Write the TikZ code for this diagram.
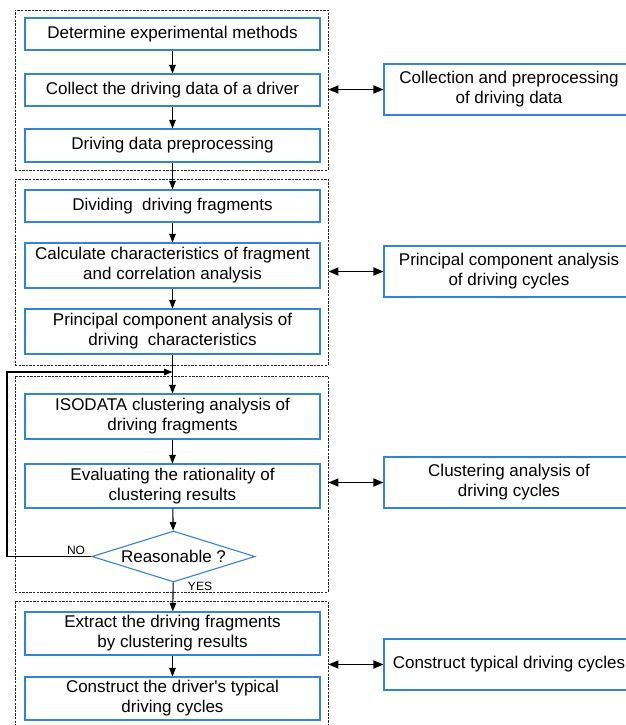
\documentclass[tikz,border=0pt]{standalone}
\usepackage{fontspec}
\setmainfont{Liberation Sans}
\usetikzlibrary{arrows.meta,shapes.geometric,shadows}
\definecolor{boxblue}{RGB}{52,132,214}
\definecolor{dashgray}{RGB}{40,40,40}
\begin{document}
\begin{tikzpicture}[x=1pt,y=-1pt,
  stepbox/.style={draw=boxblue,line width=1.1pt,fill=white,minimum width=295pt,align=center,inner sep=0pt,
    font=\fontsize{17}{20}\selectfont,
    drop shadow={shadow xshift=1pt,shadow yshift=-1.2pt,fill=black,opacity=0.12}},
  sidebox/.style={stepbox,minimum width=250pt,minimum height=51pt},
  decide/.style={diamond,draw=boxblue,line width=1.1pt,fill=white,aspect=3.2,inner sep=0pt,
    minimum width=163pt,minimum height=51pt,font=\fontsize{17}{20}\selectfont},
  group/.style={draw=dashgray,line width=0.9pt,dash pattern=on 2.4pt off 1.2pt},
  flow/.style={draw=black,line width=1.1pt,-{Triangle[length=8.5pt,width=6.5pt]}},
  both/.style={draw=black,line width=1.4pt,{Triangle[length=10pt,width=8pt]}-{Triangle[length=10pt,width=8pt]}},
  small/.style={font=\fontsize{12}{14}\selectfont,inner sep=0pt}
]
\useasboundingbox (0,0) rectangle (626,725);
\clip (0,0) rectangle (626,725);

% dashed groups
\node[group,minimum width=313pt,minimum height=160pt,inner sep=0pt] (g1) at (171.5,90) {};
\node[group,minimum width=313pt,minimum height=186pt,inner sep=0pt] (g2) at (171.5,272) {};
\node[group,minimum width=313pt,minimum height=216pt,inner sep=0pt] (g3) at (171.5,484) {};
\node[group,minimum width=313pt,minimum height=140pt,inner sep=0pt] (g4) at (171.5,671) {};

% steps
\node[stepbox,minimum height=32pt] (b1) at (172.5,34) {Determine experimental methods};
\node[stepbox,minimum height=32pt] (b2) at (172.5,90) {Collect the driving data of a driver};
\node[stepbox,minimum height=33pt] (b3) at (172.5,145.5) {Driving data preprocessing};
\node[stepbox,minimum height=32pt] (b4) at (172.5,206) {Dividing\ \ driving fragments};
\node[stepbox,minimum height=45pt] (b5) at (172.5,265.5) {Calculate characteristics of fragment\\and correlation analysis};
\node[stepbox,minimum height=45pt] (b6) at (172.5,331.5) {Principal component analysis of\\driving\ \ characteristics};
\node[stepbox,minimum height=45pt] (b7) at (172.5,416.5) {ISODATA clustering analysis of\\driving fragments};
\node[stepbox,minimum height=44pt] (b8) at (172.5,486) {Evaluating the rationality of\\clustering results};
\node[decide] (d) at (173.5,556.5) {Reasonable ?};
\node[stepbox,minimum height=43pt] (b9) at (172.5,633.5) {Extract the driving fragments\\by clustering results};
\node[stepbox,minimum height=43pt] (b10) at (172.5,698.5) {Construct the driver\textquotesingle s typical\\driving cycles};

% side boxes
\node[sidebox] (r1) at (509,89.5) {Collection and preprocessing\\of driving data};
\node[sidebox] (r2) at (509,271.5) {Principal component analysis\\of driving cycles};
\node[sidebox] (r3) at (509,482.5) {Clustering analysis of\\driving cycles};
\node[sidebox] (r4) at (509,664.5) {Construct typical driving cycles};

% flow
\draw[flow] (b1) -- (b2);
\draw[flow] (b2) -- (b3);
\draw[flow] (b3) -- (b4);
\draw[flow] (b4) -- (b5);
\draw[flow] (b5) -- (b6);
\draw[flow] (b6) -- (b7);
\draw[flow] (b7) -- (b8);
\draw[flow] (b8) -- (d);
\draw[flow] (d) -- (b9);
\draw[flow] (b9) -- (b10);

% loop back
\coordinate (lp) at (7,372);
\draw[flow] (d.west) -| (lp) -- (lp -| b7.north);
\node[small] (no) at (76,550.5) {NO};
\node[small] (yes) at (200,586) {YES};

% double arrows
\draw[both] (r1.west -| g1.east) -- (r1.west);
\draw[both] (r2.west -| g2.east) -- (r2.west);
\draw[both] (r3.west -| g3.east) -- (r3.west);
\draw[both] (r4.west -| g4.east) -- (r4.west);
\end{tikzpicture}
\end{document}
